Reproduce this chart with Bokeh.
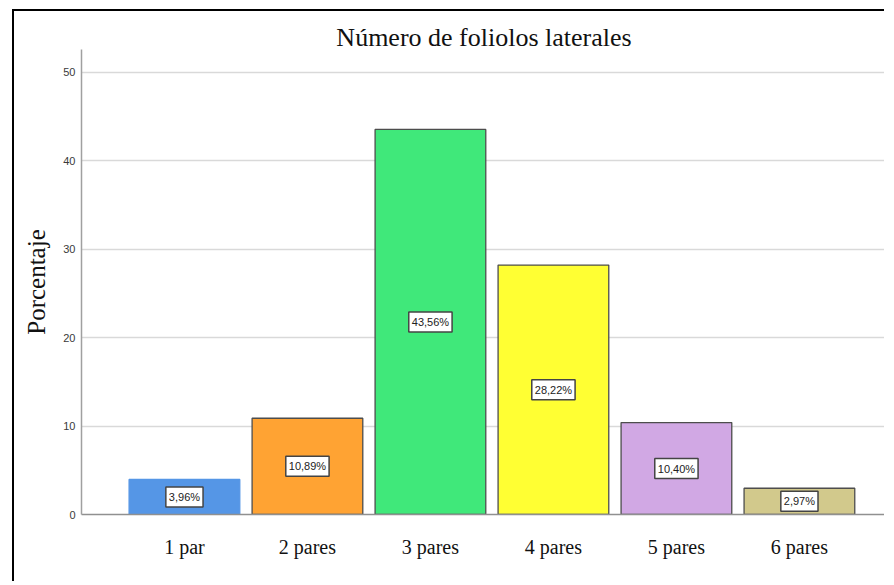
from bokeh.plotting import figure
from bokeh.models import Range1d, FixedTicker, Title
from bokeh.core.properties import value
from bokeh.embed import file_html
from bokeh.resources import INLINE

categorias = ["1 par", "2 pares", "3 pares", "4 pares", "5 pares", "6 pares"]
porcentajes = [3.96, 10.89, 43.56, 28.22, 10.40, 2.97]
y_ticks = [0, 10, 20, 30, 40, 50]

colores = ["#5596e6", "#ffa333", "#40e87a", "#ffff33", "#d1a8e4", "#d2c98c"]
bordes = ["#5596e6", "#4d4d4d", "#4d4d4d", "#4d4d4d", "#4d4d4d", "#4d4d4d"]

xs = list(range(len(categorias)))
etiquetas = [f"{v:.2f}".replace(".", ",") + "%" for v in porcentajes]
mitades = [v / 2 for v in porcentajes]

p = figure(
    width=872, height=572,
    output_backend="svg", toolbar_location=None,
    x_range=Range1d(-0.837, 5.708), y_range=Range1d(0, 52.6),
    min_border_left=67, min_border_right=0, min_border_top=38, min_border_bottom=69,
)
p.styles = {"border-left": "2px solid black", "border-top": "2px solid black",
            "margin-left": "12px", "margin-top": "9px"}

p.title = Title(text="Número de foliolos laterales", align="center",
                text_font="Liberation Serif", text_font_size="26px",
                text_font_style="normal", text_color="#111111", standoff=-4, offset=-1)

p.outline_line_color = None
p.background_fill_color = "white"
p.border_fill_color = "white"

p.vbar(x=xs, top=porcentajes, width=0.9, bottom=0,
       fill_color=colores, line_color=bordes, line_width=1.3)

p.text(x=xs, y=mitades, text=etiquetas, text_align="center", text_baseline="middle",
       text_font=value("Liberation Sans"), text_font_size="11px", text_color="#222222",
       background_fill_color="white", border_line_color="#444444", border_line_width=1.5,
       padding=dict(left=3, right=3, top=4, bottom=4))

p.xgrid.visible = False
p.ygrid.grid_line_color = "#d9d9d9"
p.ygrid.grid_line_width = 1.5
p.ygrid.ticker = FixedTicker(ticks=y_ticks)

p.yaxis.ticker = FixedTicker(ticks=y_ticks)
p.yaxis.axis_label = "Porcentaje"
p.yaxis.axis_label_text_font = "Liberation Serif"
p.yaxis.axis_label_text_font_size = "25px"
p.yaxis.axis_label_text_font_style = "normal"
p.yaxis.axis_label_text_color = "#111111"
p.yaxis.axis_label_standoff = 10
p.yaxis.major_label_text_font = "Liberation Sans"
p.yaxis.major_label_text_font_size = "11px"
p.yaxis.major_label_text_color = "#3a3a3a"
p.yaxis.major_label_standoff = 6
p.yaxis.major_tick_out = 0
p.yaxis.major_tick_in = 0
p.yaxis.minor_tick_out = 0
p.yaxis.minor_tick_in = 0
p.yaxis.axis_line_color = "#a0a0a0"
p.yaxis.axis_line_width = 1.5

p.xaxis.ticker = FixedTicker(ticks=xs)
p.xaxis.major_label_overrides = {i: c for i, c in zip(xs, categorias)}
p.xaxis.major_label_text_font = "Liberation Serif"
p.xaxis.major_label_text_font_size = "20px"
p.xaxis.major_label_text_color = "#111111"
p.xaxis.major_label_standoff = 21
p.xaxis.major_tick_out = 0
p.xaxis.major_tick_in = 0
p.xaxis.minor_tick_out = 0
p.xaxis.minor_tick_in = 0
p.xaxis.axis_line_color = "#909090"
p.xaxis.axis_line_width = 1.5

open("out.html", "w").write(file_html(p, INLINE))
